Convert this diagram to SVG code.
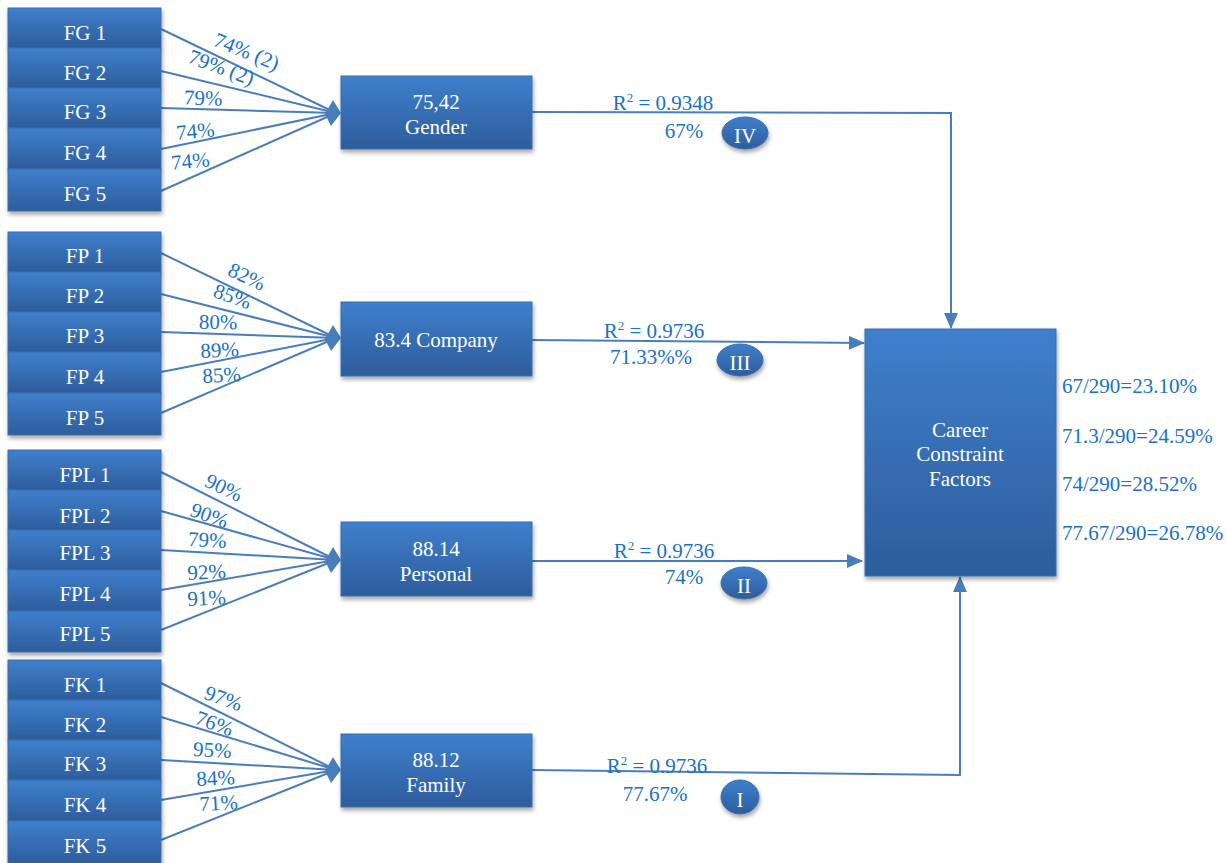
<svg xmlns="http://www.w3.org/2000/svg" width="1226" height="863" viewBox="0 0 1226 863">
<defs>
<linearGradient id="g" x1="0" y1="0" x2="0" y2="1">
<stop offset="0" stop-color="#3f7fcc"/>
<stop offset="1" stop-color="#2d5d9c"/>
</linearGradient>
<filter id="sh" x="-10%" y="-10%" width="130%" height="140%">
<feDropShadow dx="1" dy="3" stdDeviation="2" flood-color="#000" flood-opacity="0.35"/>
</filter>
<marker id="arr" markerWidth="16" markerHeight="14" refX="15" refY="7" orient="auto" markerUnits="userSpaceOnUse">
<path d="M0,0 L16,7 L0,14 Z" fill="#4a7ebb"/>
</marker>
</defs>
<style>
.box{fill:url(#g);stroke:#3b6fae;stroke-width:1;filter:url(#sh)}
.t{font-family:"Liberation Serif","Times New Roman","DejaVu Serif",serif;font-size:21px;fill:#ffffff;text-anchor:middle}
.l{font-family:"Liberation Serif","Times New Roman","DejaVu Serif",serif;font-size:21px;fill:#1a72c4;text-anchor:middle}
.r{font-family:"Liberation Serif","Times New Roman","DejaVu Serif",serif;font-size:21px;fill:#1a72c4}
.c{fill:none;stroke:#4a7ebb;stroke-width:2}
.h{fill:#4a7ebb}
</style>

<g id="connectors">
<line class="c" x1="161" y1="29" x2="336" y2="113"/>
<line class="c" x1="161" y1="71" x2="336" y2="113"/>
<line class="c" x1="161" y1="108" x2="336" y2="113"/>
<line class="c" x1="161" y1="149" x2="336" y2="113"/>
<line class="c" x1="161" y1="191" x2="336" y2="113"/>
<polygon class="h" points="341,113 333,100 325,114 331,126"/>
<line class="c" x1="161" y1="253" x2="336" y2="338"/>
<line class="c" x1="161" y1="294" x2="336" y2="338"/>
<line class="c" x1="161" y1="332" x2="336" y2="338"/>
<line class="c" x1="161" y1="372" x2="336" y2="338"/>
<line class="c" x1="161" y1="413" x2="336" y2="338"/>
<polygon class="h" points="341,338 333,325 325,339 331,351"/>
<line class="c" x1="161" y1="472" x2="336" y2="560"/>
<line class="c" x1="161" y1="511" x2="336" y2="560"/>
<line class="c" x1="161" y1="550" x2="336" y2="560"/>
<line class="c" x1="161" y1="590" x2="336" y2="560"/>
<line class="c" x1="161" y1="630" x2="336" y2="560"/>
<polygon class="h" points="341,560 333,547 325,561 331,573"/>
<line class="c" x1="161" y1="683" x2="336" y2="770"/>
<line class="c" x1="161" y1="717" x2="336" y2="770"/>
<line class="c" x1="161" y1="760" x2="336" y2="770"/>
<line class="c" x1="161" y1="800" x2="336" y2="770"/>
<line class="c" x1="161" y1="840" x2="336" y2="770"/>
<polygon class="h" points="341,770 333,757 325,771 331,783"/>
<polyline class="c" points="532,112 951,113 951,328" marker-end="url(#arr)"/>
<line class="c" x1="532" y1="340" x2="864" y2="343" marker-end="url(#arr)"/>
<line class="c" x1="532" y1="561" x2="862" y2="561" marker-end="url(#arr)"/>
<polyline class="c" points="532,770 960,775 960,577" marker-end="url(#arr)"/>
</g>

<g id="fg">
<g id="FG1"><rect class="box" x="8" y="8" width="153" height="40"/><text class="t" x="85" y="40">FG 1</text></g>
<g id="FG2"><rect class="box" x="8" y="48" width="153" height="40"/><text class="t" x="85" y="80">FG 2</text></g>
<g id="FG3"><rect class="box" x="8" y="88" width="153" height="40"/><text class="t" x="85" y="119">FG 3</text></g>
<g id="FG4"><rect class="box" x="8" y="128" width="153" height="41"/><text class="t" x="85" y="160">FG 4</text></g>
<g id="FG5"><rect class="box" x="8" y="169" width="153" height="42"/><text class="t" x="85" y="201">FG 5</text></g>
</g>
<g id="fp">
<g id="FP1"><rect class="box" x="8" y="232" width="153" height="40"/><text class="t" x="85" y="263">FP 1</text></g>
<g id="FP2"><rect class="box" x="8" y="272" width="153" height="40"/><text class="t" x="85" y="303">FP 2</text></g>
<g id="FP3"><rect class="box" x="8" y="312" width="153" height="40"/><text class="t" x="85" y="343">FP 3</text></g>
<g id="FP4"><rect class="box" x="8" y="352" width="153" height="41"/><text class="t" x="85" y="384">FP 4</text></g>
<g id="FP5"><rect class="box" x="8" y="393" width="153" height="42"/><text class="t" x="85" y="425">FP 5</text></g>
</g>
<g id="fpl">
<g id="FPL1"><rect class="box" x="8" y="450" width="153" height="40"/><text class="t" x="85" y="482">FPL 1</text></g>
<g id="FPL2"><rect class="box" x="8" y="490" width="153" height="40"/><text class="t" x="85" y="523">FPL 2</text></g>
<g id="FPL3"><rect class="box" x="8" y="530" width="153" height="40"/><text class="t" x="85" y="560">FPL 3</text></g>
<g id="FPL4"><rect class="box" x="8" y="570" width="153" height="41"/><text class="t" x="85" y="601">FPL 4</text></g>
<g id="FPL5"><rect class="box" x="8" y="611" width="153" height="41"/><text class="t" x="85" y="641">FPL 5</text></g>
</g>
<g id="fk">
<g id="FK1"><rect class="box" x="8" y="660" width="153" height="40"/><text class="t" x="85" y="692">FK 1</text></g>
<g id="FK2"><rect class="box" x="8" y="700" width="153" height="40"/><text class="t" x="85" y="732">FK 2</text></g>
<g id="FK3"><rect class="box" x="8" y="740" width="153" height="40"/><text class="t" x="85" y="771">FK 3</text></g>
<g id="FK4"><rect class="box" x="8" y="780" width="153" height="41"/><text class="t" x="85" y="812">FK 4</text></g>
<g id="FK5"><rect class="box" x="8" y="821" width="153" height="42"/><text class="t" x="85" y="853">FK 5</text></g>
</g>

<g id="labels">
<text class="l" transform="translate(244,58) rotate(22)">74% (2)</text>
<text class="l" transform="translate(219,74) rotate(20)">79% (2)</text>
<text class="l" transform="translate(203,105) rotate(2)">79%</text>
<text class="l" transform="translate(196,138) rotate(-5)">74%</text>
<text class="l" transform="translate(191,168) rotate(-5)">74%</text>

<text class="l" transform="translate(244,283) rotate(25)">82%</text>
<text class="l" transform="translate(230,303) rotate(20)">85%</text>
<text class="l" transform="translate(218,329) rotate(1)">80%</text>
<text class="l" transform="translate(220,357) rotate(-3)">89%</text>
<text class="l" transform="translate(222,382) rotate(-3)">85%</text>

<text class="l" transform="translate(221,494) rotate(25)">90%</text>
<text class="l" transform="translate(207,522) rotate(20)">90%</text>
<text class="l" transform="translate(207,547) rotate(3)">79%</text>
<text class="l" transform="translate(207,579) rotate(-3)">92%</text>
<text class="l" transform="translate(207,605) rotate(-3)">91%</text>

<text class="l" transform="translate(221,705) rotate(20)">97%</text>
<text class="l" transform="translate(212,730) rotate(20)">76%</text>
<text class="l" transform="translate(212,757) rotate(3)">95%</text>
<text class="l" transform="translate(216,785) rotate(-3)">84%</text>
<text class="l" transform="translate(219,810) rotate(-3)">71%</text>

<text class="l" x="663" y="110">R<tspan font-size="13" dy="-8">2</tspan><tspan dy="8"> = 0.9348</tspan></text>
<text class="l" x="684" y="138">67%</text>
<text class="l" x="654" y="338">R<tspan font-size="13" dy="-8">2</tspan><tspan dy="8"> = 0.9736</tspan></text>
<text class="l" x="651" y="364">71.33%%</text>
<text class="l" x="664" y="558">R<tspan font-size="13" dy="-8">2</tspan><tspan dy="8"> = 0.9736</tspan></text>
<text class="l" x="684" y="584">74%</text>
<text class="l" x="657" y="773">R<tspan font-size="13" dy="-8">2</tspan><tspan dy="8"> = 0.9736</tspan></text>
<text class="l" x="655" y="801">77.67%</text>

<text class="r" x="1062" y="393">67/290=23.10%</text>
<text class="r" x="1062" y="443">71.3/290=24.59%</text>
<text class="r" x="1062" y="491">74/290=28.52%</text>
<text class="r" x="1062" y="540">77.67/290=26.78%</text>
</g>

<g id="badgeIV"><ellipse class="box" cx="745" cy="133" rx="23" ry="16"/><text class="t" x="745" y="143" font-size="19">IV</text></g>
<g id="badgeIII"><ellipse class="box" cx="740" cy="360" rx="23" ry="16"/><text class="t" x="740" y="370" font-size="19">III</text></g>
<g id="badgeII"><ellipse class="box" cx="744" cy="583" rx="23" ry="16"/><text class="t" x="744" y="593" font-size="19">II</text></g>
<g id="badgeI"><ellipse class="box" cx="740" cy="797" rx="19" ry="17"/><text class="t" x="740" y="807" font-size="19">I</text></g>

<g id="gender"><rect class="box" x="341" y="76" width="191" height="73"/><text class="t" x="436" y="109">75,42</text><text class="t" x="436" y="134">Gender</text></g>
<g id="company"><rect class="box" x="341" y="302" width="191" height="74"/><text class="t" x="436" y="347">83.4 Company</text></g>
<g id="personal"><rect class="box" x="341" y="522" width="191" height="74"/><text class="t" x="436" y="556">88.14</text><text class="t" x="436" y="581">Personal</text></g>
<g id="family"><rect class="box" x="341" y="734" width="191" height="73"/><text class="t" x="436" y="767">88.12</text><text class="t" x="436" y="792">Family</text></g>
<g id="career"><rect class="box" x="865" y="329" width="191" height="247"/><text class="t" x="960" y="437">Career</text><text class="t" x="960" y="461">Constraint</text><text class="t" x="960" y="486">Factors</text></g>
</svg>
